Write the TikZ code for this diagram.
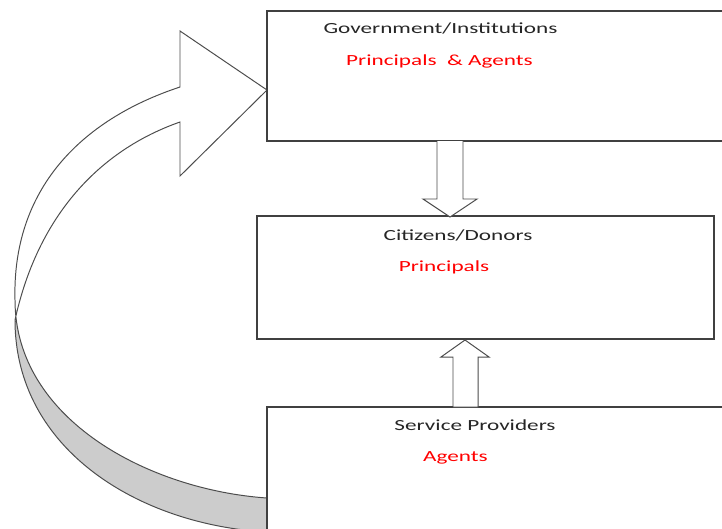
\documentclass[tikz,border=0pt]{standalone}
\usepackage{fontspec}
\setmainfont{Carlito}[FakeStretch=1.5]
\usetikzlibrary{positioning}

\begin{document}
\begin{tikzpicture}[
        x=0.025cm, y=-0.025cm,
        box/.style={
            rectangle,
            draw=black!75,
            line width=0.9pt,
            fill=white,
            inner sep=0pt
        },
        title/.style={
            font=\fontsize{11}{13}\selectfont,
            text=black!85,
            inner sep=0pt
        },
        role/.style={
            font=\fontsize{11}{13}\selectfont,
            text=red,
            inner sep=0pt
        },
        blockarrow/.style={
            draw=black!70,
            line width=0.7pt,
            fill=white
        }
    ]

    \clip (0,0) rectangle (722,528);

    % Curved arrow (back side shaded)
    \begin{scope}
        \clip (0,310) rectangle (300,560);
        \fill[black!20] (267,498) .. controls (150,490) and (15,420) .. (15,300)
            .. controls (12,190) and (80,120) .. (180,87) -- (180,31) -- (267,90)
            -- (180,176) -- (180,122) .. controls (100,150) and (38,215) .. (15,320)
            .. controls (15,450) and (140,525) .. (267,532) -- cycle;
    \end{scope}
    \draw[blockarrow, fill=none] (267,498) .. controls (150,490) and (15,420) .. (15,300)
        .. controls (12,190) and (80,120) .. (180,87) -- (180,31) -- (267,90)
        -- (180,176) -- (180,122) .. controls (100,150) and (38,215) .. (15,320)
        .. controls (15,450) and (140,525) .. (267,532);

    % Nodes
    \node (gov) [box, minimum width=11.825cm, minimum height=3.25cm] at (503.5,76) {};
    \node (cit) [box, minimum width=11.425cm, minimum height=3.075cm] at (485.5,277.5) {};
    \node (svc) [box, minimum width=11.825cm, minimum height=3.45cm] at (503.5,476) {};

    % Block arrows
    \draw[blockarrow] (437,141) -- (437,199) -- (423,199) -- (450,217)
        -- (477,199) -- (463,199) -- (463,141);
    \draw[blockarrow] (453,407) -- (453,357) -- (441,357) -- (465,340)
        -- (489,357) -- (478,357) -- (478,407) -- cycle;

    % Labels
    \node (govtitle) [title] at (440.5,28) {Government/Institutions};
    \node (govrole) [role] at (439.5,61) {Principals\ \ \& Agents};
    \node (cittitle) [title] at (458,235) {Citizens/Donors};
    \node (citrole) [role] at (444,267) {Principals};
    \node (svctitle) [title] at (475,425) {Service Providers};
    \node (svcrole) [role] at (455.5,458) {Agents};

\end{tikzpicture}
\end{document}
